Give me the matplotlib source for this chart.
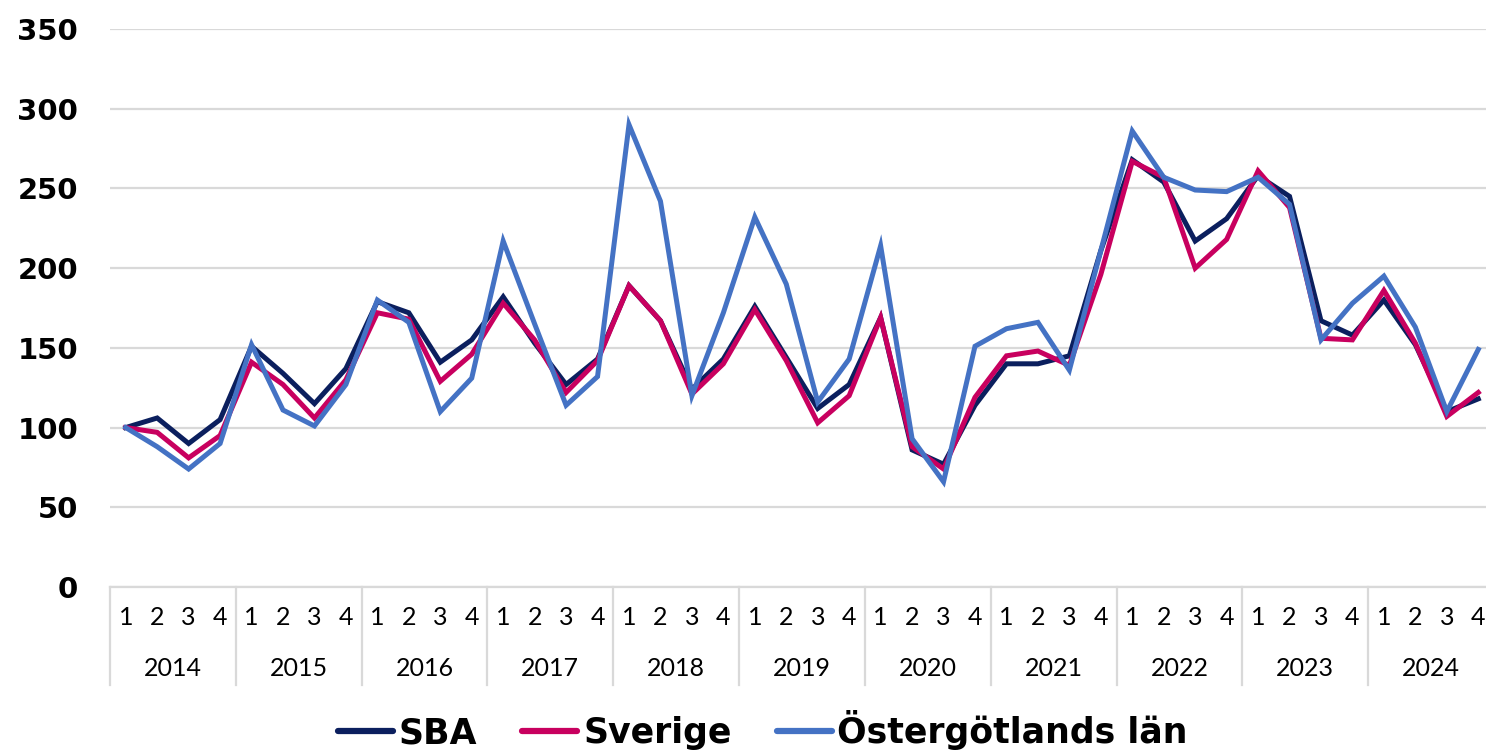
import matplotlib
matplotlib.use("Agg")
import matplotlib.pyplot as plt
import matplotlib.transforms as mtransforms

years = ["2014", "2015", "2016", "2017", "2018", "2019", "2020", "2021", "2022", "2023", "2024"]
quarters = ["1", "2", "3", "4"]

sba = [100, 106, 90, 105, 151, 134, 115, 137, 179, 172, 141, 155,
       182, 153, 127, 143, 189, 167, 124, 143, 176, 144, 112, 127,
       169, 86, 77, 114, 140, 140, 145, 211, 268, 254, 217, 231,
       258, 245, 167, 158, 180, 152, 110, 118]
sverige = [100, 97, 81, 95, 141, 127, 106, 130, 172, 168, 129, 146,
           178, 155, 122, 142, 189, 167, 121, 140, 174, 142, 103, 120,
           169, 88, 74, 119, 145, 148, 139, 196, 267, 257, 200, 218,
           261, 238, 156, 155, 186, 153, 107, 122]
ostergotland = [100, 88, 74, 90, 152, 111, 101, 127, 180, 166, 110, 131,
                217, 165, 114, 132, 290, 242, 120, 172, 232, 190, 116, 143,
                214, 93, 66, 151, 162, 166, 136, 211, 286, 257, 249, 248,
                257, 240, 155, 178, 195, 163, 110, 149]

series = [("SBA", sba, "#0B1F5E"),
          ("Sverige", sverige, "#C8005F"),
          ("Östergötlands län", ostergotland, "#4472C4")]

W, H = 1486, 751
fig = plt.figure(figsize=(W / 100, H / 100), dpi=100)
left, right, top, bottom = 110, 1494, 29, 587
ax = fig.add_axes([left / W, 1 - bottom / H, (right - left) / W, (bottom - top) / H])

bold_font = "DejaVu Sans"
font = "Lato"
n = len(years) * len(quarters)
x = list(range(n))
for name, vals, col in series:
    ax.plot(x, vals, color=col, lw=3.6, label=name, solid_joinstyle="miter", zorder=3)

ax.set_xlim(-0.5, n - 0.5)
ax.set_ylim(0, 350)
ax.set_yticks(range(0, 351, 50))
ax.set_yticklabels([str(v) for v in range(0, 351, 50)], fontsize=21,
                   fontweight="bold", family=bold_font)
ax.yaxis.grid(True, color="#D9D9D9", lw=1.6, zorder=0)
ax.tick_params(axis="y", length=0, pad=23)
for s in ["top", "right", "left"]:
    ax.spines[s].set_visible(False)
ax.spines["bottom"].set_color("#D9D9D9")
ax.spines["bottom"].set_linewidth(1.6)

ax.set_xticks(x)
ax.set_xticklabels(quarters * len(years), fontsize=18, family=font)
ax.tick_params(axis="x", length=0, pad=14)

trans = mtransforms.blended_transform_factory(ax.transData, ax.transAxes)
sep_depth = -(685 - 587) / (bottom - top)
for k in range(len(years) + 1):
    xb = k * 4 - 0.5
    ax.plot([xb, xb], [0, sep_depth], color="#D9D9D9", lw=1.6, transform=trans,
            clip_on=False)
year_y = -(668 - 587) / (bottom - top)
for k, yr in enumerate(years):
    ax.text(k * 4 + 1.5, year_y, yr, transform=trans, ha="center", va="center",
            fontsize=18, family=font)

leg = fig.legend(loc="center", bbox_to_anchor=(763 / W, 1 - 730 / H), ncol=3,
                 frameon=False, handlelength=1.58, handletextpad=0.17,
                 columnspacing=1.3,
                 prop={"family": bold_font, "weight": "bold", "size": 25})
for line in leg.get_lines():
    line.set_linewidth(4.5)
    line.set_solid_capstyle("round")

fig.savefig("out.png", dpi=100)
